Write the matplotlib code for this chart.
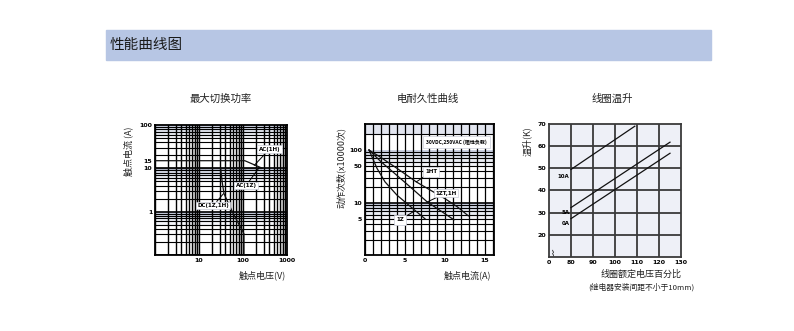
import matplotlib
matplotlib.use("Agg")
import matplotlib.pyplot as plt
from matplotlib.patches import Rectangle

plt.rcParams['font.family'] = ['Noto Sans CJK SC', 'DejaVu Sans']

# chart 1: max switching power (log-log)
ac1h_v = [1, 110, 277]
ac1h_a = [15, 15, 10]
ac1z_v = [1, 250]
ac1z_a = [10, 10]
dc_v = [31, 34, 37, 60, 105, 105]
dc_a = [10, 4.5, 2.6, 0.9, 0.31, 0.1]

# chart 2: electrical endurance
z1_i = [0.5, 1.5, 2.5, 4, 5.5, 7.5]
z1_n = [100, 45, 25, 14, 9, 5]
zt_i = [0.5, 2, 4, 6, 7.75, 9.5, 11.1]
zt_n = [100, 60, 33, 18, 10.5, 7, 4.8]
ht_i = [0.5, 2, 4, 6.4, 10, 11.5, 12.9]
ht_n = [100, 72, 45, 25, 12, 8.5, 5.7]

# chart 3: coil temperature rise
rise_v = [80, 125]
rise_0a = [27.3, 56.8]
rise_5a = [32.3, 61.8]
rise_10a_v = [80, 109]
rise_10a = [49.5, 69]

W, H = 794, 331
fig = plt.figure(figsize=(W / 100, H / 100), dpi=100)

def fx(px):
    return px / W

def fy(py):
    return 1 - py / H

# header band
fig.patches.append(Rectangle((fx(106), fy(60)), fx(711) - fx(106), fy(30) - fy(60),
                             transform=fig.transFigure, color='#b7c6e4', zorder=0))
fig.text(fx(110), fy(45), '性能曲线图', fontsize=10.5, va='center', ha='left', color='#1a1a1a')

band = '#8f9bc0'

def log_bands(ax, lo, hi):
    k = lo
    while k < hi:
        for m in range(5, 10):
            y0, y1 = m * k, (m + 1) * k
            ax.axhspan(y0, y1, color=band, alpha=0.1 + 0.09 * (m - 5), lw=0, zorder=0)
        for m in range(1, 10):
            ax.axhline(m * k, color='black', lw=1.2 if m == 1 else 0.8, zorder=1)
        k *= 10

def style(ax):
    for s in ax.spines.values():
        s.set_linewidth(1.3)
    ax.tick_params(length=0, pad=2)
    for lab in ax.get_xticklabels() + ax.get_yticklabels():
        lab.set_fontsize(4.5)
        lab.set_fontweight('bold')
        lab.set_family('DejaVu Sans')

box = dict(boxstyle='square,pad=0.25', fc='white', ec='#c8cbd6', lw=0.5)
ann_font = dict(fontsize=4, fontweight='bold', family='DejaVu Sans')
arrow = dict(arrowstyle='-', color='black', lw=0.7, shrinkA=0, shrinkB=0)

# ---- chart 1
ax1 = fig.add_axes([fx(155), fy(255), fx(287) - fx(155), fy(125) - fy(255)])
ax1.set_xscale('log')
ax1.set_yscale('log')
ax1.set_xlim(1, 1000)
ax1.set_ylim(0.1, 100)
log_bands(ax1, 0.1, 100)
for k in [1, 10, 100]:
    ax1.axvspan(7 * k, 10 * k, color='#9a9a9a', alpha=0.35, lw=0, zorder=0)
    for m in range(1, 10):
        ax1.axvline(m * k, color='black', lw=1.0, zorder=1)
ax1.plot(ac1h_v, ac1h_a, color='#111111', lw=0.9, zorder=3)
ax1.plot(ac1z_v, ac1z_a, color='#111111', lw=0.9, zorder=3)
ax1.plot(dc_v, dc_a, color='#111111', lw=0.9, zorder=3)
ax1.set_xticks([10, 100, 1000])
ax1.set_xticklabels(['10', '100', '1000'])
ax1.set_yticks([1, 10, 15, 100])
ax1.set_yticklabels(['1', '10', '15', '100'])
ax1.minorticks_off()
ax1.annotate('AC(1H)', xy=(180, 11.7), xytext=(400, 27.6), ha='center', va='center',
             bbox=box, arrowprops=arrow, zorder=5, **ann_font)
ax1.annotate('AC(1Z)', xy=(235, 10.5), xytext=(117, 4), ha='center', va='center',
             bbox=box, arrowprops=arrow, zorder=5, **ann_font)
ax1.annotate('DC(1Z,1H)', xy=(36, 2.6), xytext=(21, 1.38), ha='center', va='center',
             bbox=box, arrowprops=arrow, zorder=5, **ann_font)
style(ax1)

# ---- chart 2
ax2 = fig.add_axes([fx(365), fy(255), fx(494) - fx(365), fy(124) - fy(255)])
ax2.set_yscale('log')
ax2.set_xlim(0, 16.1)
ax2.set_ylim(1.04, 310)
log_bands(ax2, 1, 100)
ax2.axhspan(200, 310, color=band, alpha=0.25, lw=0, zorder=0)
ax2.axhline(200, color='black', lw=0.8, zorder=1)
for i in range(0, 17):
    ax2.axvline(i, color='black', lw=0.9, zorder=1)
ax2.plot(z1_i, z1_n, color='#111111', lw=0.9, zorder=3)
ax2.plot(zt_i, zt_n, color='#111111', lw=0.9, zorder=3)
ax2.plot(ht_i, ht_n, color='#111111', lw=0.9, zorder=3)
ax2.set_xticks([0, 5, 10, 15])
ax2.set_xticklabels(['0', '5', '10', '15'])
ax2.set_yticks([5, 10, 50, 100])
ax2.set_yticklabels(['5', '10', '50', '100'])
ax2.minorticks_off()
ax2.text(11.4, 141, '30VDC,250VAC (阻性负载)', ha='center', va='center', fontsize=3.6,
         fontweight='bold', bbox=dict(boxstyle='square,pad=0.6', fc='white', ec='#c8cbd6', lw=0.5), zorder=5)
ax2.annotate('1HT', xy=(6.4, 25), xytext=(8.25, 38.5), ha='center', va='center',
             bbox=dict(boxstyle='square,pad=0.4', fc='white', ec='#c8cbd6', lw=0.5),
             arrowprops=arrow, zorder=5, **ann_font)
ax2.annotate('1ZT,1H', xy=(7.75, 10.4), xytext=(10.1, 15.4), ha='center', va='center',
             bbox=box, arrowprops=arrow, zorder=5, **ann_font)
ax2.annotate('1Z', xy=(6.0, 6.8), xytext=(4.4, 4.8), ha='center', va='center',
             bbox=dict(boxstyle='square,pad=0.4', fc='white', ec='#c8cbd6', lw=0.5),
             arrowprops=arrow, zorder=5, **ann_font)
style(ax2)

# ---- chart 3
ax3 = fig.add_axes([fx(549), fy(257), fx(681) - fx(549), fy(124) - fy(257)])
ax3.set_facecolor('#eef0f7')
ax3.set_xlim(70, 130)
ax3.set_ylim(10, 70)
for v in [80, 90, 100, 110, 120]:
    ax3.axvline(v, color='#3a3a3a', lw=1.3, zorder=1)
for t in [20, 30, 40, 50, 60]:
    ax3.axhline(t, color='#3a3a3a', lw=1.3, zorder=1)
ax3.plot(rise_10a_v, rise_10a, color='#111111', lw=0.9, zorder=3)
ax3.plot(rise_v, rise_5a, color='#111111', lw=0.9, zorder=3)
ax3.plot(rise_v, rise_0a, color='#111111', lw=0.9, zorder=3)
ax3.text(79, 46.5, '10A', ha='right', va='center', **ann_font)
ax3.text(79.5, 30.2, '5A', ha='right', va='center', **ann_font)
ax3.text(79.5, 25.2, '0A', ha='right', va='center', **ann_font)
ax3.text(71.5, 11.5, '⌇', fontsize=6, ha='center', va='center', family='DejaVu Sans')
ax3.set_xticks([70, 80, 90, 100, 110, 120, 130])
ax3.set_xticklabels(['0', '80', '90', '100', '110', '120', '130'])
ax3.set_yticks([20, 30, 40, 50, 60, 70])
ax3.set_yticklabels(['20', '30', '40', '50', '60', '70'])
style(ax3)
for s in ax3.spines.values():
    s.set_color('#3a3a3a')

# titles and axis labels
tfont = dict(fontsize=7.5, ha='center', va='center', color='#222222')
fig.text(fx(221), fy(99), '最大切换功率', **tfont)
fig.text(fx(428), fy(99), '电耐久性曲线', **tfont)
fig.text(fx(612), fy(99), '线圈温升', **tfont)

lfont = dict(fontsize=6.5, ha='center', va='center', color='#222222')
fig.text(fx(128), fy(151), '触点电流 (A)', rotation=90, **lfont)
fig.text(fx(262), fy(275), '触点电压(V)', **lfont)
fig.text(fx(341), fy(168), '动作次数(x10000次)', rotation=90, **lfont)
fig.text(fx(467), fy(275), '触点电流(A)', **lfont)
fig.text(fx(527), fy(141), '温升(K)', rotation=90, **lfont)
fig.text(fx(641), fy(274), '线圈额定电压百分比', **lfont)
fig.text(fx(641), fy(287), '(继电器安装间距不小于10mm)', fontsize=5.6, ha='center', va='center', color='#222222')

fig.savefig('out.png', dpi=100)
